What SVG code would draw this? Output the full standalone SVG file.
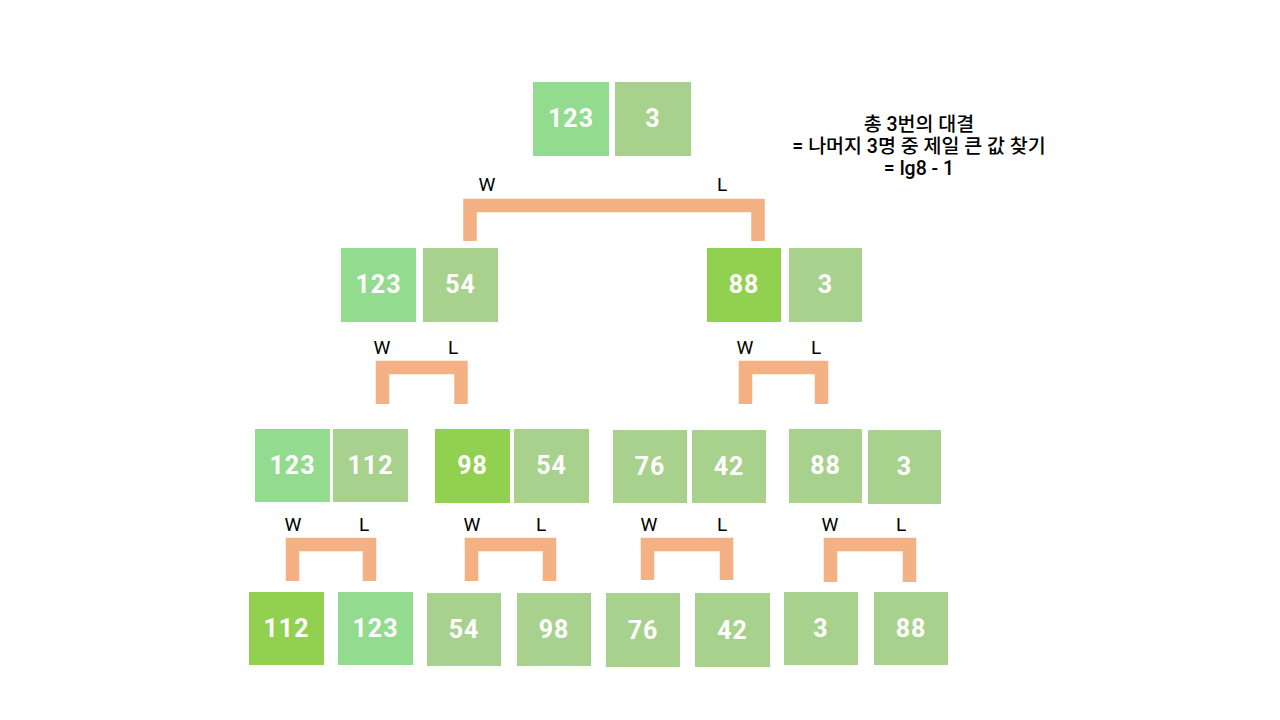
<svg xmlns="http://www.w3.org/2000/svg" width="1280" height="720" viewBox="0 0 1280 720">
<style>
.a{fill:#93DB8F}.b{fill:#A9D18E}.c{fill:#92D050}
.n{font-family:Roboto,"Liberation Sans",sans-serif;font-weight:700;font-size:25px;fill:#fff;text-anchor:middle;letter-spacing:1px}
.w{font-family:Roboto,"Liberation Sans",sans-serif;font-size:19px;fill:#000;text-anchor:middle}
.t{font-family:Roboto,"Noto Sans CJK KR",sans-serif;font-weight:500;font-size:19.5px;fill:#000;text-anchor:middle}
.br{fill:none;stroke:#F4B183;stroke-width:13.5;stroke-linejoin:miter}
</style>
<rect width="1280" height="720" fill="#fff"/>
<g id="connectors">
<path class="br" d="M470 241V205.5H758V241"/>
<path class="br" d="M382.5 404V367.5H461V404"/>
<path class="br" d="M745.5 404V367.5H821.5V404"/>
<path class="br" d="M292.5 581V544.5H369.5V581"/>
<path class="br" d="M471.5 581V544.5H549.5V581"/>
<path class="br" d="M647.5 580V544.5H726.5V580"/>
<path class="br" d="M830.5 582V544.5H909.5V582"/>
</g>
<g id="labels">
<text class="w" x="487" y="191">W</text><text class="w" x="722" y="191">L</text>
<text class="w" x="382" y="354">W</text><text class="w" x="453" y="354">L</text>
<text class="w" x="745" y="354">W</text><text class="w" x="816" y="354">L</text>
<text class="w" x="293" y="531">W</text><text class="w" x="364" y="531">L</text>
<text class="w" x="472" y="531">W</text><text class="w" x="541" y="531">L</text>
<text class="w" x="649" y="531">W</text><text class="w" x="722" y="531">L</text>
<text class="w" x="830" y="531">W</text><text class="w" x="901" y="531">L</text>
</g>
<g id="note">
<text class="t" x="919" y="131">총 3번의 대결</text>
<text class="t" x="919" y="153">= 나머지 3명 중 제일 큰 값 찾기</text>
<text class="t" x="919" y="175">= lg8 - 1</text>
</g>
<g id="n-top"><rect class="a" x="533" y="82" width="76" height="74"/><text class="n" x="571" y="127">123</text><rect class="b" x="615" y="82" width="76" height="74"/><text class="n" x="653" y="127">3</text></g>
<g id="n-l2a"><rect class="a" x="341" y="248" width="75" height="74"/><text class="n" x="378.5" y="293">123</text><rect class="b" x="423" y="248" width="75" height="74"/><text class="n" x="460.5" y="293">54</text></g>
<g id="n-l2b"><rect class="c" x="707" y="248" width="74" height="74"/><text class="n" x="744" y="293">88</text><rect class="b" x="789" y="248" width="73" height="74"/><text class="n" x="825.5" y="293">3</text></g>
<g id="n-l3a"><rect class="a" x="255" y="429" width="75" height="73"/><text class="n" x="292.5" y="474">123</text><rect class="b" x="333" y="429" width="75" height="73"/><text class="n" x="370.5" y="474">112</text></g>
<g id="n-l3b"><rect class="c" x="435" y="429" width="75" height="74"/><text class="n" x="472.5" y="474">98</text><rect class="b" x="514" y="429" width="75" height="74"/><text class="n" x="551.5" y="474">54</text></g>
<g id="n-l3c"><rect class="b" x="613" y="430" width="74" height="73"/><text class="n" x="650" y="475">76</text><rect class="b" x="692" y="430" width="74" height="73"/><text class="n" x="729" y="475">42</text></g>
<g id="n-l3d"><rect class="b" x="789" y="429" width="73" height="74"/><text class="n" x="825.5" y="474">88</text><rect class="b" x="868" y="430" width="73" height="74"/><text class="n" x="904.5" y="475">3</text></g>
<g id="n-l4a"><rect class="c" x="249" y="592" width="75" height="73"/><text class="n" x="286.5" y="637">112</text><rect class="a" x="338" y="592" width="75" height="73"/><text class="n" x="375.5" y="637">123</text></g>
<g id="n-l4b"><rect class="b" x="427" y="593" width="74" height="73"/><text class="n" x="464" y="638">54</text><rect class="b" x="517" y="593" width="74" height="73"/><text class="n" x="554" y="638">98</text></g>
<g id="n-l4c"><rect class="b" x="606" y="593" width="74" height="74"/><text class="n" x="643" y="639">76</text><rect class="b" x="695" y="593" width="75" height="74"/><text class="n" x="732.5" y="639">42</text></g>
<g id="n-l4d"><rect class="b" x="784" y="592" width="74" height="73"/><text class="n" x="821" y="637">3</text><rect class="b" x="874" y="592" width="74" height="73"/><text class="n" x="911" y="637">88</text></g>
</svg>
